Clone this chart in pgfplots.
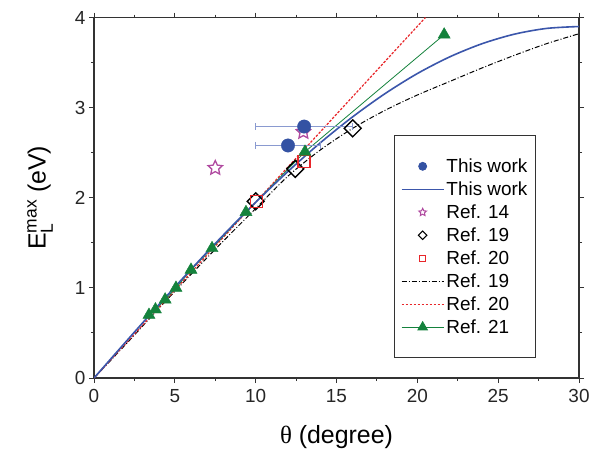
\documentclass[border=0pt]{standalone}
\usepackage{fontspec}
\setmainfont{Liberation Sans}
\newfontfamily\greekfont{Liberation Serif}
\usepackage{amsmath}
\usepackage{pgfplots}
\pgfplotsset{compat=1.18}
\usetikzlibrary{plotmarks}

\definecolor{cblue}{HTML}{3452A3}
\definecolor{lblue}{HTML}{3B56AB}
\definecolor{cerr}{HTML}{8A9AD0}
\definecolor{cmag}{HTML}{B04AA0}
\definecolor{cgreen}{HTML}{14823C}
\definecolor{cred}{HTML}{E8262A}
\definecolor{axgray}{HTML}{333333}

% open five-pointed star
\pgfdeclareplotmark{ostar}{%
  \pgfpathmoveto{\pgfqpointpolar{90}{\pgfplotmarksize}}%
  \pgfpathlineto{\pgfqpointpolar{126}{0.48\pgfplotmarksize}}%
  \pgfpathlineto{\pgfqpointpolar{162}{\pgfplotmarksize}}%
  \pgfpathlineto{\pgfqpointpolar{198}{0.48\pgfplotmarksize}}%
  \pgfpathlineto{\pgfqpointpolar{234}{\pgfplotmarksize}}%
  \pgfpathlineto{\pgfqpointpolar{270}{0.48\pgfplotmarksize}}%
  \pgfpathlineto{\pgfqpointpolar{306}{\pgfplotmarksize}}%
  \pgfpathlineto{\pgfqpointpolar{342}{0.48\pgfplotmarksize}}%
  \pgfpathlineto{\pgfqpointpolar{18}{\pgfplotmarksize}}%
  \pgfpathlineto{\pgfqpointpolar{54}{0.48\pgfplotmarksize}}%
  \pgfpathclose\pgfusepathqstroke}

\begin{document}
\begin{tikzpicture}
\useasboundingbox (-94bp,-74bp) rectangle (508bp,378bp);
\begin{axis}[
    at={(0,0)}, anchor=south west,
    scale only axis, width=485bp, height=360.5bp,
    xmin=0, xmax=30, ymin=0, ymax=4,
    xtick={0,5,...,30}, ytick={0,1,...,4},
    minor x tick num=1, minor y tick num=1,
    tick align=outside,
    major tick length=5bp, minor tick length=3bp,
    axis line style={axgray, line width=1.1bp},
    every tick/.style={axgray, line width=0.9bp},
    tick label style={font=\fontsize{19}{21}\selectfont, text=black!85},
    xticklabel style={yshift=-3bp},
    /pgf/number format/assume math mode=true,
    every axis x label/.style={at={(rel axis cs:0.5,0)}, yshift=-59bp, anchor=center},
    every axis y label/.style={at={(rel axis cs:0,0.5)}, xshift=-54bp, rotate=90, anchor=center},
    label style={font=\fontsize{25}{27}\selectfont},
    xlabel={{\greekfont θ} (degree)},
    ylabel={E$_{\text{L}}^{\text{max}}$ (eV)},
    legend image code/.code={\draw[mark repeat=2,mark phase=2,#1] plot coordinates {(0bp,0bp) (21bp,0bp) (42bp,0bp)};},
    legend style={at={(rel axis cs:0.911,0.055)}, anchor=south east, draw=axgray, line width=0.8bp,
        font=\fontsize{19}{22}\selectfont, inner ysep=21bp, inner xsep=6bp, row sep=3.8bp},
    legend cell align=left,
]
% legend entries
\addlegendimage{only marks, mark=*, color=cblue, mark size=4bp}
\addlegendentry{This work}
\addlegendimage{no marks, color=lblue, line width=1.6bp}
\addlegendentry{This work}
\addlegendimage{only marks, mark=ostar, color=cmag, mark size=4bp, line width=1bp}
\addlegendentry{Ref. 14}
\addlegendimage{only marks, mark=square, mark options={rotate=45}, color=black, mark size=3bp, line width=1bp}
\addlegendentry{Ref. 19}
\addlegendimage{only marks, mark=square, color=cred, mark size=3.2bp, line width=1.1bp}
\addlegendentry{Ref. 20}
\addlegendimage{no marks, color=black, line width=1bp, dash pattern=on 5bp off 2bp on 1bp off 2bp}
\addlegendentry{Ref. 19}
\addlegendimage{no marks, color=cred, line width=1.2bp, dash pattern=on 2.5bp off 1.5bp}
\addlegendentry{Ref. 20}
\addlegendimage{color=cgreen, line width=0.8bp, mark=triangle*, mark size=5.5bp}
\addlegendentry{Ref. 21}

% Ref. 19 model curve
\addplot[forget plot, black, line width=1bp, dash pattern=on 5bp off 2bp on 1bp off 2bp, smooth] coordinates {
  (0,0) (2,0.38) (4,0.77) (6,1.15) (8,1.52) (10,1.88) (12,2.24) (14,2.53)
  (16,2.77) (18,2.97) (20,3.14) (22,3.29) (24,3.44) (26,3.58) (28,3.71) (30,3.82)};
% Ref. 20 model line
\addplot[forget plot, cred, line width=1.2bp, dash pattern=on 2.5bp off 1.5bp] coordinates {
  (0,0) (20.5,4.0)};
% Ref. 21
\addplot[forget plot, cgreen, line width=0.8bp] coordinates {
  (3.4,0.70) (3.8,0.76) (4.4,0.87) (5.07,1.00) (6.0,1.20) (7.3,1.44) (9.4,1.84) (13.05,2.51) (21.66,3.81)};
% this work, curve
\addplot[forget plot, lblue, line width=1.6bp, smooth] coordinates {
  (0,0) (2,0.408) (4,0.811) (6,1.205) (8,1.586) (10,1.950) (12,2.292) (14,2.610)
  (16,2.898) (18,3.155) (20,3.378) (22,3.563) (24,3.709) (26,3.815) (28,3.879) (30,3.900)};
% Ref. 19 points
\addplot[forget plot, only marks, mark=square, mark options={rotate=45}, black, mark size=6bp, line width=1.4bp] coordinates {
  (10,1.96) (12.45,2.32) (16,2.77)};
% Ref. 20 points
\addplot[forget plot, only marks, mark=square, cred, mark size=6bp, line width=1.4bp] coordinates {
  (10.05,1.96) (13,2.40)};
% Ref. 21 points
\addplot[forget plot, only marks, mark=triangle*, cgreen, mark size=7bp] coordinates {
  (3.4,0.70) (3.8,0.76) (4.4,0.87) (5.07,1.00) (6.0,1.20) (7.3,1.44) (9.4,1.84) (13.05,2.51) (21.66,3.81)};
% Ref. 14
\addplot[forget plot, only marks, mark=ostar, cmag, mark size=7.5bp, line width=1.3bp] coordinates {
  (7.5,2.33) (12.95,2.73)};
% this work, horizontal error bars (12 +- 2, 13 +- 3)
\addplot[forget plot, cerr, line width=1bp, mark=|, mark size=3.5bp] coordinates {
  (10,2.58) (14,2.58)};
\addplot[forget plot, cerr, line width=1bp, mark=|, mark size=3.5bp] coordinates {
  (10,2.79) (16,2.79)};
% this work, points
\addplot[forget plot, only marks, mark=*, cblue, mark size=6.7bp] coordinates {
  (12,2.58) (13,2.79)};
\end{axis}
\end{tikzpicture}
\end{document}
